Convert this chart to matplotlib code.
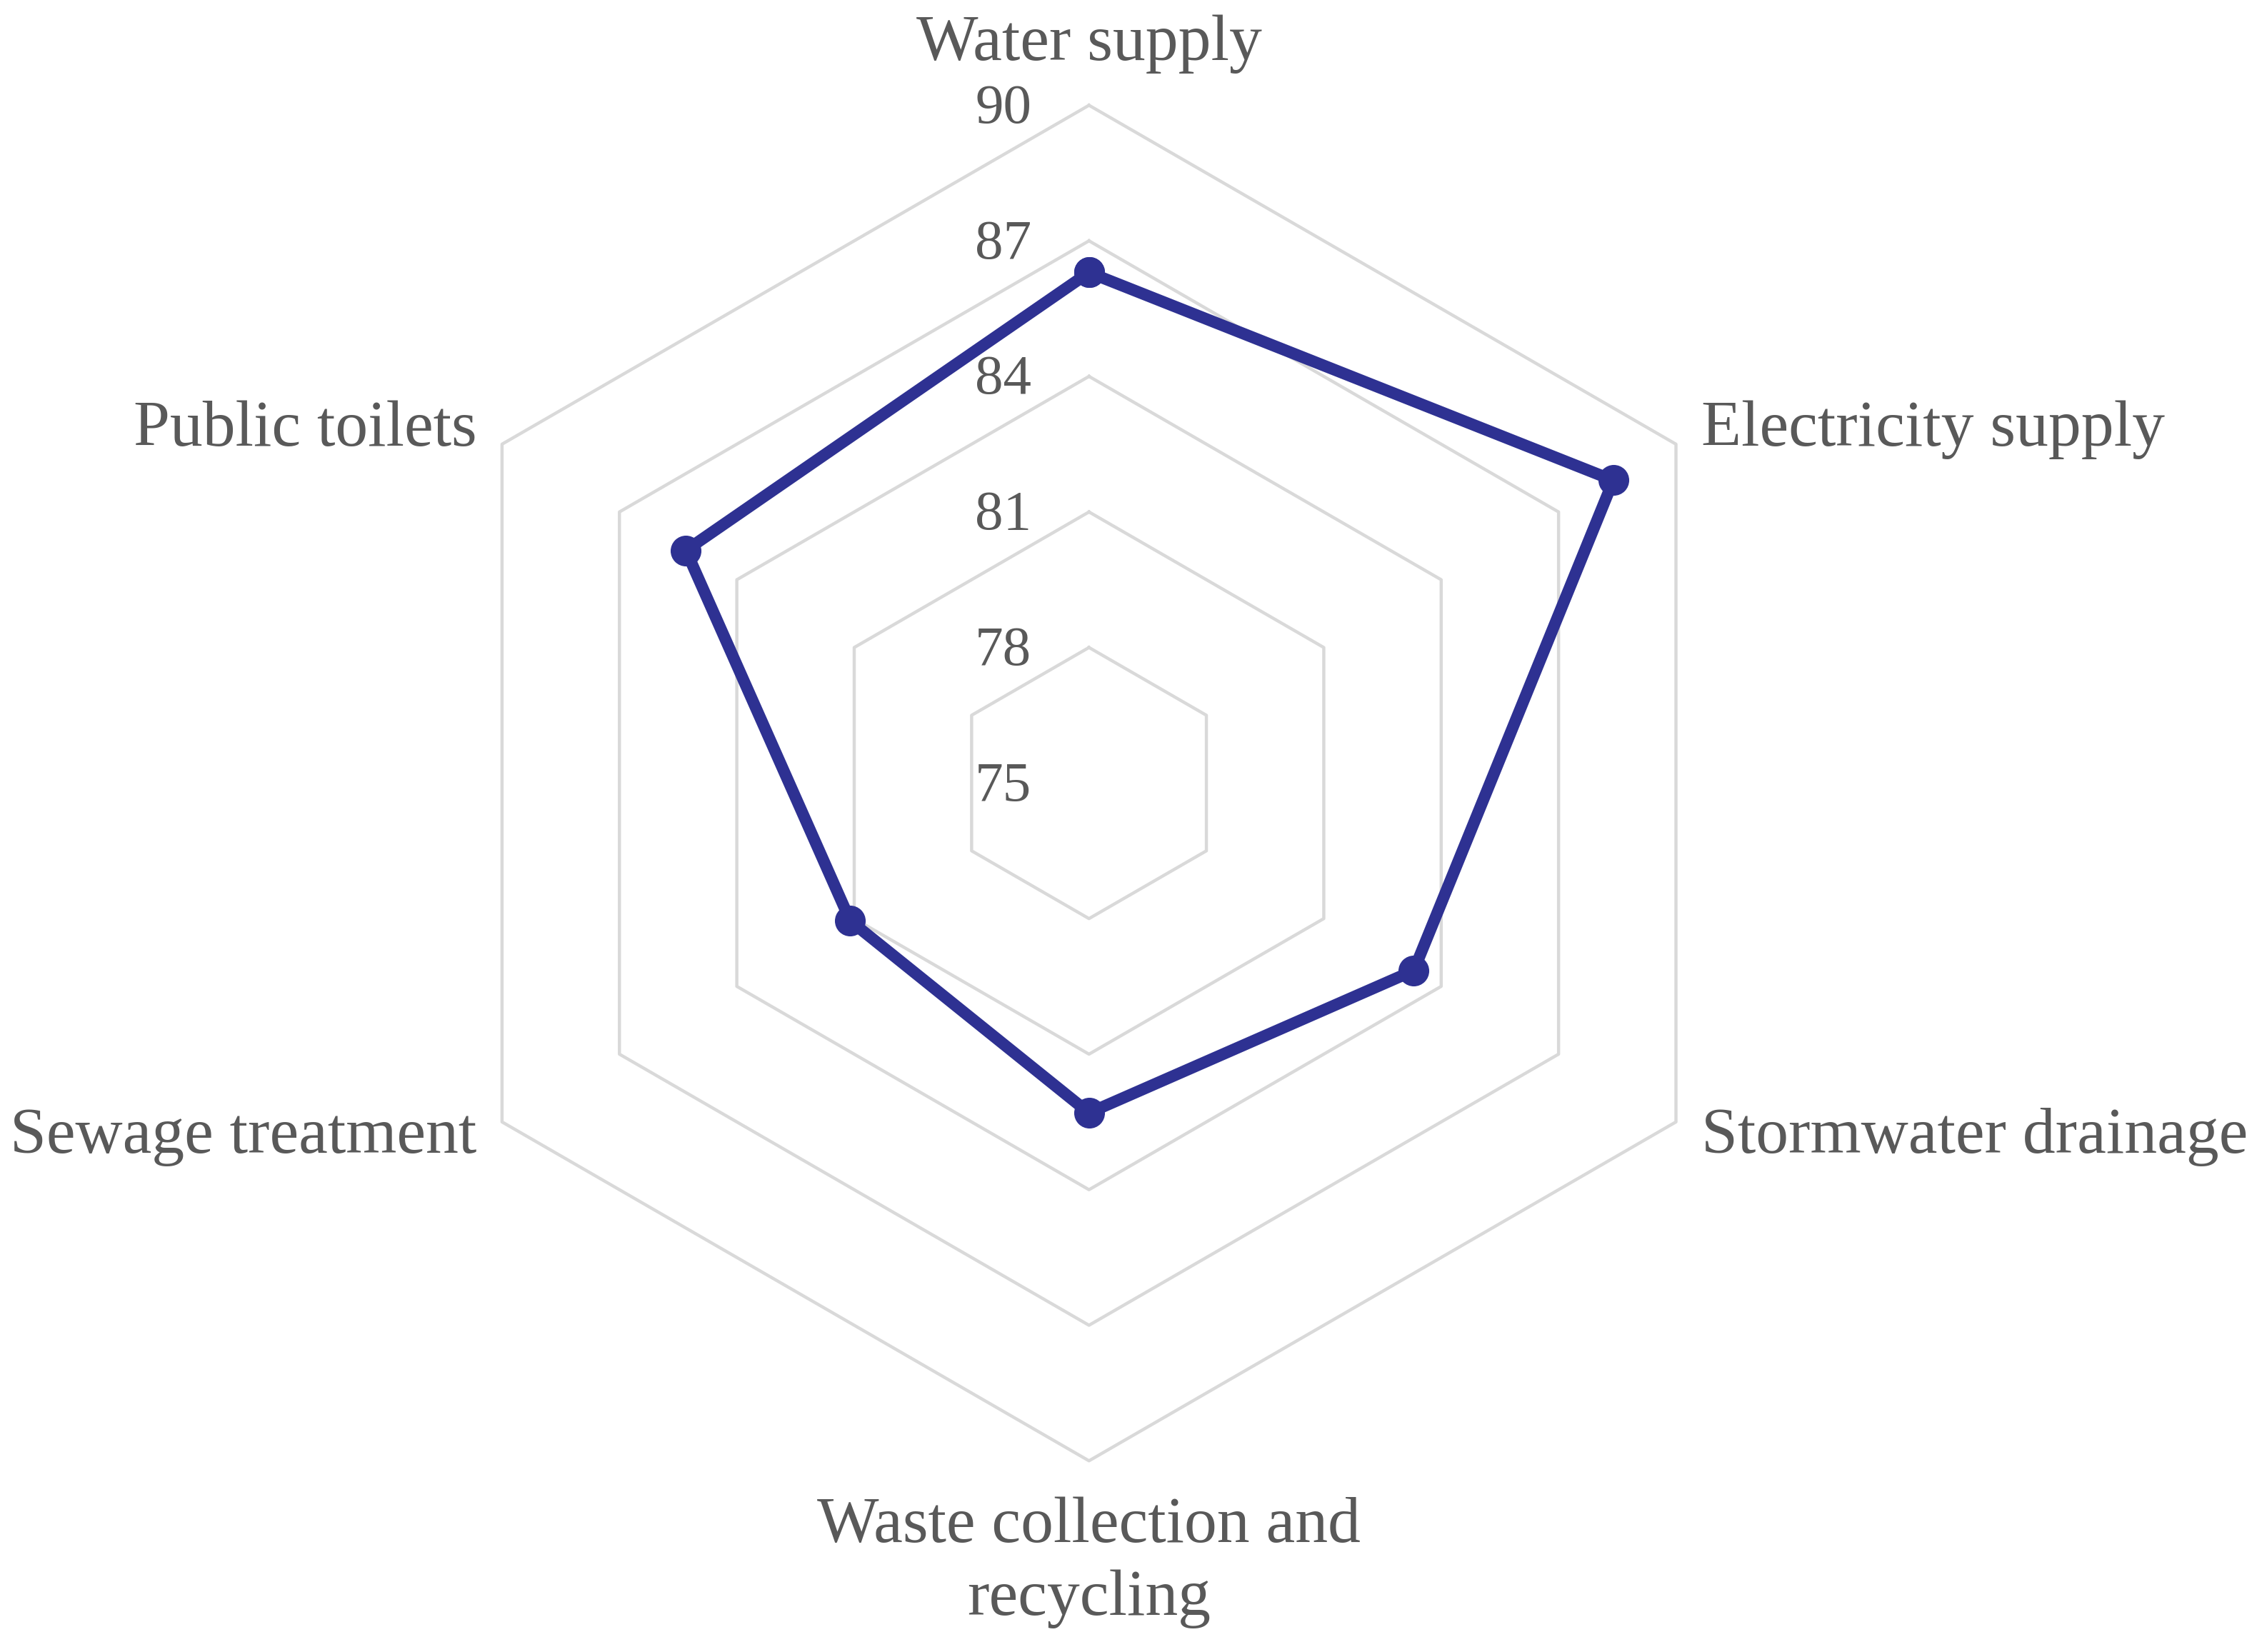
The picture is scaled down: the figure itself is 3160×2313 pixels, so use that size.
import numpy as np
import matplotlib.pyplot as plt

# categories and scores
categories = ['Water supply', 'Electricity supply', 'Stormwater drainage',
              'Waste collection and\nrecycling', 'Sewage treatment', 'Public toilets']
scores = [86.3, 88.4, 83.3, 82.3, 81.1, 85.3]
ring_levels = [78, 81, 84, 87, 90]
tick_labels = ['75', '78', '81', '84', '87', '90']
tick_values = [75, 78, 81, 84, 87, 90]

line_color = '#2E3192'
text_color = '#595959'
grid_color = '#D9D9D9'

plt.rcParams['font.family'] = ['Liberation Serif', 'DejaVu Serif']

fig = plt.figure(figsize=(15.8, 11.565), dpi=200)
ax = fig.add_axes([0.1822, 0.1157, 0.6006, 0.8206], projection='polar')
ax.set_theta_zero_location('N')
ax.set_theta_direction(-1)
ax.set_ylim(75, 90)
ax.grid(False)
ax.spines['polar'].set_visible(False)
ax.set_xticks([])
ax.set_yticks([])

n = len(categories)
angles = np.linspace(0, 2 * np.pi, n, endpoint=False)
closed = np.append(angles, angles[0])

# hexagonal grid
for lev in ring_levels:
    ax.plot(closed, [lev] * (n + 1), color=grid_color, lw=1.6, clip_on=False, zorder=1)

# data line
vals = scores + [scores[0]]
ax.plot(closed, vals, color=line_color, lw=5.9, marker='o', markersize=14.5,
        clip_on=False, zorder=3)

# radial tick labels along the top axis
for v, lab in zip(tick_values, tick_labels):
    ax.annotate(lab, xy=(0, v), xytext=(-29, -2), textcoords='offset points',
                ha='right', va='center', fontsize=28.5, color=text_color)

# category labels
label_pos = [(91.35, 'center', 'center'), (90.65, 'left', 'center'),
             (90.65, 'left', 'center'), (90.8, 'center', 'top'),
             (90.65, 'right', 'center'), (90.65, 'right', 'center')]
for ang, lab, (r, ha, va) in zip(angles, categories, label_pos):
    ax.text(ang, r, lab, ha=ha, va=va, fontsize=33, color=text_color,
            linespacing=1.3, clip_on=False)

plt.savefig('out.png', dpi=200, facecolor='white')
